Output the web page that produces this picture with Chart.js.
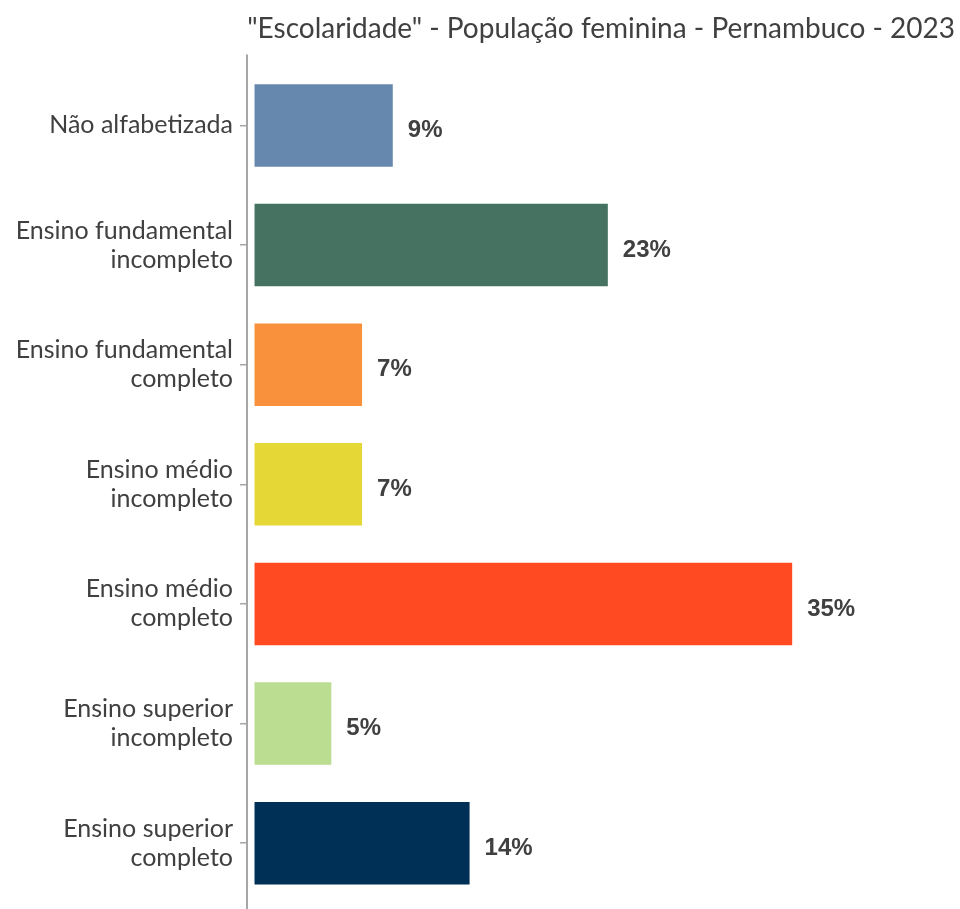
<!DOCTYPE html>
<html>
<head>
<meta charset="utf-8">
<script src="https://cdn.jsdelivr.net/npm/chart.js@4.4.1/dist/chart.umd.min.js"></script>
<style>
  html, body { margin: 0; padding: 0; background: #ffffff; }
  #wrap { width: 960px; height: 909px; }
</style>
</head>
<body>
<div id="wrap"><canvas id="c" width="960" height="909"></canvas></div>
<script>
const titleText = '"Escolaridade" - População feminina - Pernambuco - 2023';
const categories = [
  ['Não alfabetizada'],
  ['Ensino fundamental', 'incompleto'],
  ['Ensino fundamental', 'completo'],
  ['Ensino médio', 'incompleto'],
  ['Ensino médio', 'completo'],
  ['Ensino superior', 'incompleto'],
  ['Ensino superior', 'completo']
];
const values = [9, 23, 7, 7, 35, 5, 14];
const barColors = ['#6688ae', '#467361', '#f9913c', '#e5d836', '#ff4a22', '#bbdd92', '#003056'];

const axisLine = {
  id: 'axisLine',
  afterDraw(chart) {
    const ctx = chart.ctx, a = chart.chartArea;
    ctx.save();
    ctx.strokeStyle = '#a6a6a6';
    ctx.lineWidth = 2;
    ctx.beginPath();
    ctx.moveTo(a.left, a.top - 11);
    ctx.lineTo(a.left, chart.height);
    ctx.stroke();
    ctx.restore();
  }
};

const valueLabels = {
  id: 'valueLabels',
  afterDatasetsDraw(chart) {
    const ctx = chart.ctx;
    const meta = chart.getDatasetMeta(0);
    ctx.save();
    ctx.font = 'bold 24px "Liberation Sans Narrow", "Liberation Sans", Arial, sans-serif';
    ctx.fillStyle = '#404040';
    ctx.textAlign = 'left';
    ctx.textBaseline = 'middle';
    meta.data.forEach((bar, i) => {
      ctx.fillText(values[i] + '%', bar.x + 15, bar.y + 5);
    });
    ctx.restore();
  }
};

new Chart(document.getElementById('c'), {
  type: 'bar',
  data: {
    labels: categories,
    datasets: [{
      data: values,
      backgroundColor: barColors,
      borderWidth: 0,
      barPercentage: 0.69,
      categoryPercentage: 1.0
    }]
  },
  options: {
    indexAxis: 'y',
    responsive: false,
    animation: false,
    layout: { padding: { left: 0, right: 5, top: 0, bottom: 6 } },
    plugins: {
      legend: { display: false },
      tooltip: { enabled: false },
      title: {
        display: true,
        text: titleText,
        align: 'end',
        color: '#404040',
        font: { family: 'Lato, "Open Sans", sans-serif', size: 28, weight: 'normal' },
        padding: { top: 12, bottom: 20 }
      }
    },
    scales: {
      x: {
        display: false,
        min: -0.49,
        max: 45.6
      },
      y: {
        afterFit(scale) {
          scale.width = 247;
          scale.paddingTop = 0;
          scale.paddingBottom = 0;
        },
        border: { display: false },
        grid: {
          offset: false,
          drawOnChartArea: false,
          drawTicks: true,
          tickLength: 7,
          color: '#a6a6a6',
          lineWidth: 1.5
        },
        ticks: {
          color: '#404040',
          padding: 7,
          font: { family: 'Lato, "Open Sans", sans-serif', size: 25, lineHeight: 1.16 }
        }
      }
    }
  },
  plugins: [axisLine, valueLabels]
});
</script>
</body>
</html>
